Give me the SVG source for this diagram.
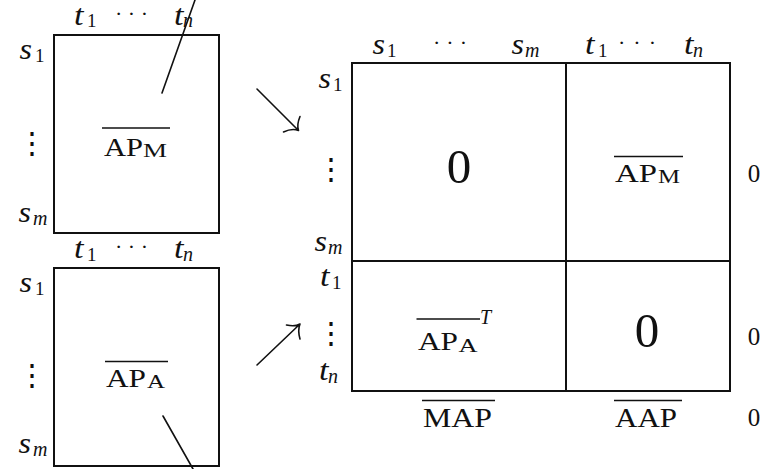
<svg xmlns="http://www.w3.org/2000/svg" width="769" height="469" viewBox="0 0 769 469">
<style>
text{font-family:"Liberation Serif","Times New Roman",serif;fill:#111}
.it{font-style:italic;font-size:29px}
.sub{font-style:normal;font-size:19px}
.subi{font-style:italic;font-size:20px}
.rm{font-size:26px}
.rs{font-size:18px}
.big{font-size:49px}
.z{font-size:25px}
.dots{font-size:22px;font-style:normal}
.vd{font-family:"DejaVu Serif",serif;font-size:30px;text-anchor:middle}
.box{fill:none;stroke:#111;stroke-width:2}
.ol{stroke:#111;stroke-width:1.3}
.ln{fill:none;stroke:#111;stroke-width:1.6;stroke-linecap:round}
</style>
<rect width="769" height="469" fill="#fff"/>

<g id="box-apm">
<rect class="box" x="54" y="35" width="165" height="198"/>
<text class="it" x="74" y="24.5"><tspan textLength="9.5" lengthAdjust="spacingAndGlyphs">t</tspan><tspan class="sub" x="87" y="27">1</tspan></text>
<text class="dots" x="115" y="21" textLength="33" lengthAdjust="spacing">· · ·</text>
<text class="it" x="174" y="24.5"><tspan textLength="9.5" lengthAdjust="spacingAndGlyphs">t</tspan><tspan class="subi" x="183" y="27">n</tspan></text>
<text class="it" x="19.5" y="59"><tspan textLength="12.5" lengthAdjust="spacingAndGlyphs">s</tspan><tspan class="sub" x="35" y="62">1</tspan></text>
<text class="vd" x="32" y="153">⋮</text>
<text class="it" x="18.5" y="222"><tspan textLength="12.5" lengthAdjust="spacingAndGlyphs">s</tspan><tspan class="subi" x="33" y="225">m</tspan></text>
<line class="ol" x1="102" y1="128" x2="170" y2="128"/>
<text class="rm" x="104" y="155.5"><tspan textLength="39" lengthAdjust="spacingAndGlyphs">AP</tspan><tspan class="rs" x="143" y="157" textLength="24" lengthAdjust="spacingAndGlyphs">M</tspan></text>
</g>

<g id="box-apa">
<rect class="box" x="54" y="268" width="165" height="198"/>
<text class="it" x="74" y="258"><tspan textLength="9.5" lengthAdjust="spacingAndGlyphs">t</tspan><tspan class="sub" x="87" y="260.5">1</tspan></text>
<text class="dots" x="115" y="254" textLength="33" lengthAdjust="spacing">· · ·</text>
<text class="it" x="174" y="258"><tspan textLength="9.5" lengthAdjust="spacingAndGlyphs">t</tspan><tspan class="subi" x="183" y="260.5">n</tspan></text>
<text class="it" x="19.5" y="292"><tspan textLength="12.5" lengthAdjust="spacingAndGlyphs">s</tspan><tspan class="sub" x="35" y="295">1</tspan></text>
<text class="vd" x="32" y="385">⋮</text>
<text class="it" x="18.5" y="453"><tspan textLength="12.5" lengthAdjust="spacingAndGlyphs">s</tspan><tspan class="subi" x="33" y="456">m</tspan></text>
<line class="ol" x1="105" y1="361.5" x2="168" y2="361.5"/>
<text class="rm" x="106" y="386.5"><tspan textLength="40" lengthAdjust="spacingAndGlyphs">AP</tspan><tspan class="rs" x="147" y="388" textLength="18" lengthAdjust="spacingAndGlyphs">A</tspan></text>
</g>

<g id="matrix">
<rect class="box" x="352" y="63" width="378" height="328"/>
<line class="box" x1="566" y1="63" x2="566" y2="391"/>
<line class="box" x1="352" y1="261" x2="730" y2="261"/>
<text class="it" x="372.5" y="54"><tspan textLength="12.5" lengthAdjust="spacingAndGlyphs">s</tspan><tspan class="sub" x="387" y="57">1</tspan></text>
<text class="dots" x="433" y="50" textLength="34" lengthAdjust="spacing">· · ·</text>
<text class="it" x="511.5" y="54"><tspan textLength="12.5" lengthAdjust="spacingAndGlyphs">s</tspan><tspan class="subi" x="525" y="57">m</tspan></text>
<text class="it" x="585" y="54"><tspan textLength="9.5" lengthAdjust="spacingAndGlyphs">t</tspan><tspan class="sub" x="598" y="57">1</tspan></text>
<text class="dots" x="618" y="50" textLength="38" lengthAdjust="spacing">· · ·</text>
<text class="it" x="684" y="54"><tspan textLength="9.5" lengthAdjust="spacingAndGlyphs">t</tspan><tspan class="subi" x="693" y="57">n</tspan></text>
<text class="it" x="318.5" y="88"><tspan textLength="12.5" lengthAdjust="spacingAndGlyphs">s</tspan><tspan class="sub" x="333" y="91">1</tspan></text>
<text class="vd" x="331" y="179">⋮</text>
<text class="it" x="314.5" y="251"><tspan textLength="12.5" lengthAdjust="spacingAndGlyphs">s</tspan><tspan class="subi" x="328" y="254">m</tspan></text>
<text class="it" x="320" y="286"><tspan textLength="9.5" lengthAdjust="spacingAndGlyphs">t</tspan><tspan class="sub" x="332" y="289">1</tspan></text>
<text class="vd" x="331" y="343">⋮</text>
<text class="it" x="319" y="380"><tspan textLength="9.5" lengthAdjust="spacingAndGlyphs">t</tspan><tspan class="subi" x="328" y="383">n</tspan></text>
</g>

<g id="q-00">
<text class="big" x="459" y="183" text-anchor="middle">0</text>
</g>
<g id="q-01">
<line class="ol" x1="614" y1="156.5" x2="683" y2="156.5"/>
<text class="rm" x="615" y="181.5"><tspan textLength="42" lengthAdjust="spacingAndGlyphs">AP</tspan><tspan class="rs" x="658" y="183" textLength="22" lengthAdjust="spacingAndGlyphs">M</tspan></text>
</g>
<g id="q-10">
<line class="ol" x1="416.5" y1="319" x2="480" y2="319"/>
<text class="rm" x="418" y="349.5"><tspan textLength="40" lengthAdjust="spacingAndGlyphs">AP</tspan><tspan class="rs" x="458.5" y="351.5" textLength="19" lengthAdjust="spacingAndGlyphs">A</tspan><tspan class="subi" x="480" y="323.5">T</tspan></text>
</g>
<g id="q-11">
<text class="big" x="647" y="347" text-anchor="middle">0</text>
</g>
<g id="right-zeros">
<text class="z" x="754" y="182" text-anchor="middle">0</text>
<text class="z" x="754" y="345" text-anchor="middle">0</text>
<text class="z" x="754" y="426" text-anchor="middle">0</text>
</g>
<g id="map">
<line class="ol" x1="422" y1="400.5" x2="495" y2="400.5"/>
<text class="rm" x="423" y="426.5" textLength="69" lengthAdjust="spacingAndGlyphs" style="font-size:27px">MAP</text>
</g>
<g id="aap">
<line class="ol" x1="614" y1="400.5" x2="682" y2="400.5"/>
<text class="rm" x="615" y="426.5" textLength="62" lengthAdjust="spacingAndGlyphs" style="font-size:27px">AAP</text>
</g>

<g id="connectors">
<line class="ln" x1="162" y1="93" x2="195" y2="0"/>
<line class="ln" x1="163" y1="416" x2="193" y2="469"/>
<path class="ln" d="M257,89 L298.5,130.5 M300,116.5 Q296.5,125 298.5,130.5 M283.5,132 Q292,128 298.5,130.5"/>
<path class="ln" d="M257,365 L300,324 M286.5,325 Q295,327 300,324 M300,339 Q297.5,330 300,324"/>
</g>
</svg>
